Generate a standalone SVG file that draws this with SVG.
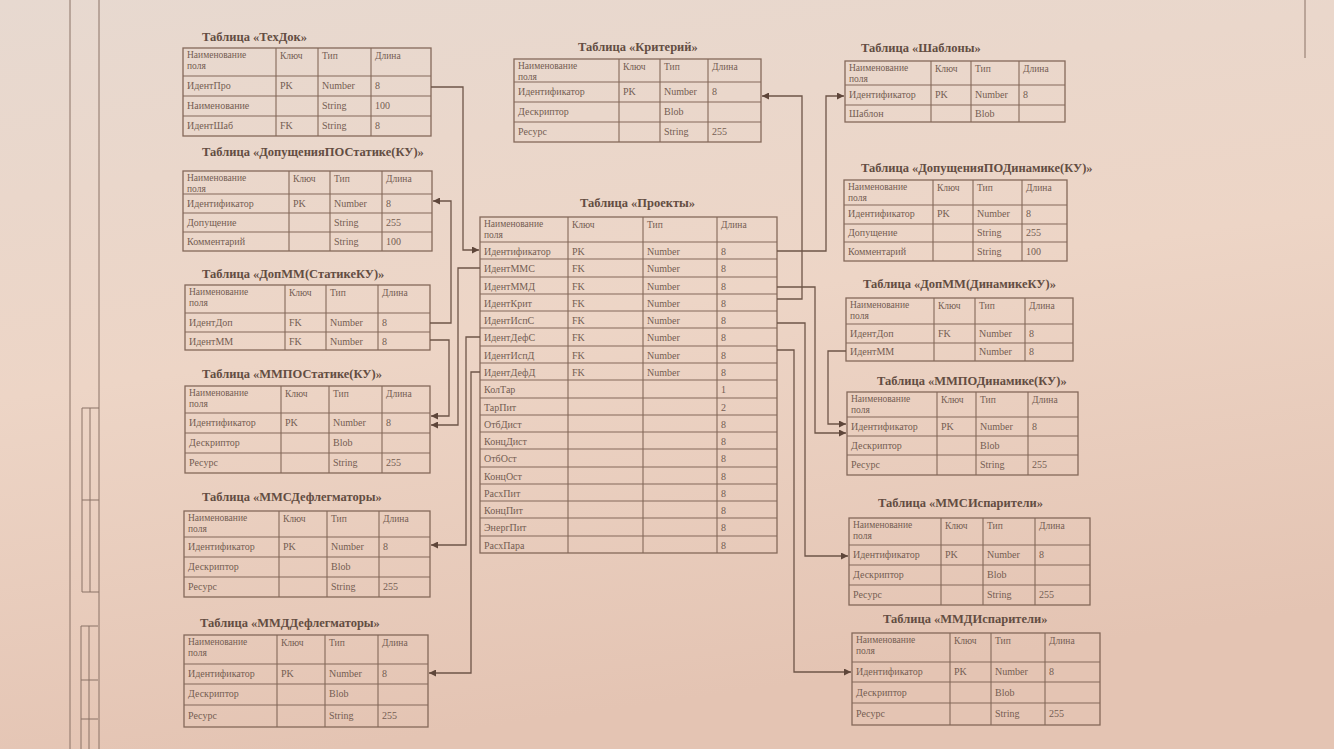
<svg xmlns="http://www.w3.org/2000/svg" width="1334" height="749" viewBox="0 0 1334 749">
<defs>
<linearGradient id="bg" x1="0" y1="0" x2="0.25" y2="1">
<stop offset="0" stop-color="#e7d9d0"/>
<stop offset="0.5" stop-color="#edd5c6"/>
<stop offset="1" stop-color="#e4c4b3"/>
</linearGradient>
<marker id="arr" viewBox="0 0 10 10" refX="10" refY="5" markerWidth="9" markerHeight="7" markerUnits="userSpaceOnUse" orient="auto">
<path d="M0 0L10 5L0 10z" fill="#5e463a"/>
</marker>
<style>
.box{fill:none;stroke:#84695a;stroke-width:1.3}
.grid{fill:none;stroke:#84695a;stroke-width:1.1}
.frame{fill:none;stroke:#8a7266;stroke-width:1}
.t{font-family:"Liberation Serif",serif;font-size:10px;fill:#745d52}
.h{font-family:"Liberation Serif",serif;font-size:9.5px;fill:#745d52}
.ttl{font-family:"Liberation Serif",serif;font-size:12.5px;font-weight:bold;fill:#634d42}
.conn{fill:none;stroke:#6e5548;stroke-width:1.3}
</style>
</defs>
<rect x="0" y="0" width="1334" height="749" fill="url(#bg)"/>

<g id="frame">
<path class="frame" d="M70 0V749M99 0V749M1305 0V58"/>
<path class="frame" d="M82 408H99M82 408V592H99M90 408V592M82 500H99"/>
<path class="frame" d="M81 626H98M81 626V749M89 626V749M81 680H98M81 719H98"/>
</g>

<g id="t-techdok">
<text class="ttl" x="202" y="41">Таблица «ТехДок»</text>
<rect class="box" x="183" y="48" width="248" height="88"/>
<path class="grid" d="M276 48V136M318 48V136M371 48V136M183 76H431M183 96H431M183 116H431"/>
<text class="h" x="187" y="58">Наименование</text><text class="h" x="187" y="69">поля</text>
<text class="h" x="280" y="59">Ключ</text><text class="h" x="322" y="59">Тип</text><text class="h" x="375" y="59">Длина</text>
<text class="t" x="187" y="89">ИдентПро</text><text class="t" x="280" y="89">PK</text><text class="t" x="322" y="89">Number</text><text class="t" x="375" y="89">8</text>
<text class="t" x="187" y="109">Наименование</text><text class="t" x="322" y="109">String</text><text class="t" x="375" y="109">100</text>
<text class="t" x="187" y="129">ИдентШаб</text><text class="t" x="280" y="129">FK</text><text class="t" x="322" y="129">String</text><text class="t" x="375" y="129">8</text>
</g>

<g id="t-dopst">
<text class="ttl" x="202" y="156">Таблица «ДопущенияПОСтатике(КУ)»</text>
<rect class="box" x="183" y="171" width="249" height="80"/>
<path class="grid" d="M289 171V251M330 171V251M382 171V251M183 194H432M183 213H432M183 232H432"/>
<text class="h" x="187" y="181">Наименование</text><text class="h" x="187" y="192">поля</text>
<text class="h" x="293" y="182">Ключ</text><text class="h" x="334" y="182">Тип</text><text class="h" x="386" y="182">Длина</text>
<text class="t" x="187" y="207">Идентификатор</text><text class="t" x="293" y="207">PK</text><text class="t" x="334" y="207">Number</text><text class="t" x="386" y="207">8</text>
<text class="t" x="187" y="226">Допущение</text><text class="t" x="334" y="226">String</text><text class="t" x="386" y="226">255</text>
<text class="t" x="187" y="245">Комментарий</text><text class="t" x="334" y="245">String</text><text class="t" x="386" y="245">100</text>
</g>

<g id="t-dopmmst">
<text class="ttl" x="202" y="278">Таблица «ДопММ(СтатикеКУ)»</text>
<rect class="box" x="185" y="285" width="245" height="65"/>
<path class="grid" d="M285 285V350M326 285V350M378 285V350M185 313H430M185 332H430"/>
<text class="h" x="189" y="295">Наименование</text><text class="h" x="189" y="306">поля</text>
<text class="h" x="289" y="296">Ключ</text><text class="h" x="330" y="296">Тип</text><text class="h" x="382" y="296">Длина</text>
<text class="t" x="189" y="326">ИдентДоп</text><text class="t" x="289" y="326">FK</text><text class="t" x="330" y="326">Number</text><text class="t" x="382" y="326">8</text>
<text class="t" x="189" y="345">ИдентММ</text><text class="t" x="289" y="345">FK</text><text class="t" x="330" y="345">Number</text><text class="t" x="382" y="345">8</text>
</g>

<g id="t-mmpost">
<text class="ttl" x="202" y="378">Таблица «ММПОСтатике(КУ)»</text>
<rect class="box" x="185" y="386" width="245" height="87"/>
<path class="grid" d="M281 386V473M329 386V473M382 386V473M185 413H430M185 433H430M185 453H430"/>
<text class="h" x="189" y="396">Наименование</text><text class="h" x="189" y="407">поля</text>
<text class="h" x="285" y="397">Ключ</text><text class="h" x="333" y="397">Тип</text><text class="h" x="386" y="397">Длина</text>
<text class="t" x="189" y="426">Идентификатор</text><text class="t" x="285" y="426">PK</text><text class="t" x="333" y="426">Number</text><text class="t" x="386" y="426">8</text>
<text class="t" x="189" y="446">Дескриптор</text><text class="t" x="333" y="446">Blob</text>
<text class="t" x="189" y="466">Ресурс</text><text class="t" x="333" y="466">String</text><text class="t" x="386" y="466">255</text>
</g>

<g id="t-mmsdef">
<text class="ttl" x="202" y="501">Таблица «ММСДефлегматоры»</text>
<rect class="box" x="184" y="511" width="246" height="86"/>
<path class="grid" d="M279 511V597M327 511V597M379 511V597M184 537H430M184 557H430M184 577H430"/>
<text class="h" x="188" y="521">Наименование</text><text class="h" x="188" y="532">поля</text>
<text class="h" x="283" y="522">Ключ</text><text class="h" x="331" y="522">Тип</text><text class="h" x="383" y="522">Длина</text>
<text class="t" x="188" y="550">Идентификатор</text><text class="t" x="283" y="550">PK</text><text class="t" x="331" y="550">Number</text><text class="t" x="383" y="550">8</text>
<text class="t" x="188" y="570">Дескриптор</text><text class="t" x="331" y="570">Blob</text>
<text class="t" x="188" y="590">Ресурс</text><text class="t" x="331" y="590">String</text><text class="t" x="383" y="590">255</text>
</g>

<g id="t-mmddef">
<text class="ttl" x="200" y="627">Таблица «ММДДефлегматоры»</text>
<rect class="box" x="184" y="635" width="244" height="92"/>
<path class="grid" d="M277 635V727M325 635V727M378 635V727M184 664H428M184 684H428M184 705H428"/>
<text class="h" x="188" y="645">Наименование</text><text class="h" x="188" y="656">поля</text>
<text class="h" x="281" y="646">Ключ</text><text class="h" x="329" y="646">Тип</text><text class="h" x="382" y="646">Длина</text>
<text class="t" x="188" y="677">Идентификатор</text><text class="t" x="281" y="677">PK</text><text class="t" x="329" y="677">Number</text><text class="t" x="382" y="677">8</text>
<text class="t" x="188" y="697">Дескриптор</text><text class="t" x="329" y="697">Blob</text>
<text class="t" x="188" y="719">Ресурс</text><text class="t" x="329" y="719">String</text><text class="t" x="382" y="719">255</text>
</g>

<g id="t-krit">
<text class="ttl" x="578" y="51">Таблица «Критерий»</text>
<rect class="box" x="514" y="59" width="247" height="83"/>
<path class="grid" d="M619 59V142M660 59V142M708 59V142M514 82H761M514 102H761M514 122H761"/>
<text class="h" x="518" y="69">Наименование</text><text class="h" x="518" y="80">поля</text>
<text class="h" x="623" y="70">Ключ</text><text class="h" x="664" y="70">Тип</text><text class="h" x="712" y="70">Длина</text>
<text class="t" x="518" y="95">Идентификатор</text><text class="t" x="623" y="95">PK</text><text class="t" x="664" y="95">Number</text><text class="t" x="712" y="95">8</text>
<text class="t" x="518" y="115">Дескриптор</text><text class="t" x="664" y="115">Blob</text>
<text class="t" x="518" y="135">Ресурс</text><text class="t" x="664" y="135">String</text><text class="t" x="712" y="135">255</text>
</g>

<g id="t-proekty">
<text class="ttl" x="580" y="207">Таблица «Проекты»</text>
<rect class="box" x="480" y="217" width="297" height="336"/>
<path class="grid" d="M568 217V553M643 217V553M717 217V553M480 242H777M480 259H777M480 277H777M480 294H777M480 311H777M480 328H777M480 346H777M480 363H777M480 380H777M480 398H777M480 415H777M480 432H777M480 449H777M480 467H777M480 484H777M480 501H777M480 518H777M480 536H777"/>
<text class="h" x="484" y="227">Наименование</text><text class="h" x="484" y="238">поля</text>
<text class="h" x="572" y="228">Ключ</text><text class="h" x="647" y="228">Тип</text><text class="h" x="721" y="228">Длина</text>
<text class="t" x="484" y="254.5">Идентификатор</text><text class="t" x="572" y="254.5">PK</text><text class="t" x="647" y="254.5">Number</text><text class="t" x="721" y="254.5">8</text>
<text class="t" x="484" y="271.5">ИдентММС</text><text class="t" x="572" y="271.5">FK</text><text class="t" x="647" y="271.5">Number</text><text class="t" x="721" y="271.5">8</text>
<text class="t" x="484" y="289.5">ИдентММД</text><text class="t" x="572" y="289.5">FK</text><text class="t" x="647" y="289.5">Number</text><text class="t" x="721" y="289.5">8</text>
<text class="t" x="484" y="306.5">ИдентКрит</text><text class="t" x="572" y="306.5">FK</text><text class="t" x="647" y="306.5">Number</text><text class="t" x="721" y="306.5">8</text>
<text class="t" x="484" y="323.5">ИдентИспС</text><text class="t" x="572" y="323.5">FK</text><text class="t" x="647" y="323.5">Number</text><text class="t" x="721" y="323.5">8</text>
<text class="t" x="484" y="340.5">ИдентДефС</text><text class="t" x="572" y="340.5">FK</text><text class="t" x="647" y="340.5">Number</text><text class="t" x="721" y="340.5">8</text>
<text class="t" x="484" y="358.5">ИдентИспД</text><text class="t" x="572" y="358.5">FK</text><text class="t" x="647" y="358.5">Number</text><text class="t" x="721" y="358.5">8</text>
<text class="t" x="484" y="375.5">ИдентДефД</text><text class="t" x="572" y="375.5">FK</text><text class="t" x="647" y="375.5">Number</text><text class="t" x="721" y="375.5">8</text>
<text class="t" x="484" y="392.5">КолТар</text><text class="t" x="721" y="392.5">1</text>
<text class="t" x="484" y="410.5">ТарПит</text><text class="t" x="721" y="410.5">2</text>
<text class="t" x="484" y="427.5">ОтбДист</text><text class="t" x="721" y="427.5">8</text>
<text class="t" x="484" y="444.5">КонцДист</text><text class="t" x="721" y="444.5">8</text>
<text class="t" x="484" y="461.5">ОтбОст</text><text class="t" x="721" y="461.5">8</text>
<text class="t" x="484" y="479.5">КонцОст</text><text class="t" x="721" y="479.5">8</text>
<text class="t" x="484" y="496.5">РасхПит</text><text class="t" x="721" y="496.5">8</text>
<text class="t" x="484" y="513.5">КонцПит</text><text class="t" x="721" y="513.5">8</text>
<text class="t" x="484" y="530.5">ЭнергПит</text><text class="t" x="721" y="530.5">8</text>
<text class="t" x="484" y="548.5">РасхПара</text><text class="t" x="721" y="548.5">8</text>
</g>

<g id="t-shablony">
<text class="ttl" x="861" y="52">Таблица «Шаблоны»</text>
<rect class="box" x="845" y="61" width="220" height="61"/>
<path class="grid" d="M931 61V122M971 61V122M1019 61V122M845 85H1065M845 105H1065"/>
<text class="h" x="849" y="71">Наименование</text><text class="h" x="849" y="82">поля</text>
<text class="h" x="935" y="72">Ключ</text><text class="h" x="975" y="72">Тип</text><text class="h" x="1023" y="72">Длина</text>
<text class="t" x="849" y="98">Идентификатор</text><text class="t" x="935" y="98">PK</text><text class="t" x="975" y="98">Number</text><text class="t" x="1023" y="98">8</text>
<text class="t" x="849" y="117">Шаблон</text><text class="t" x="975" y="117">Blob</text>
</g>

<g id="t-dopdin">
<text class="ttl" x="861" y="172">Таблица «ДопущенияПОДинамике(КУ)»</text>
<rect class="box" x="844" y="180" width="223" height="81"/>
<path class="grid" d="M933 180V261M973 180V261M1022 180V261M844 205H1067M844 224H1067M844 242H1067"/>
<text class="h" x="848" y="190">Наименование</text><text class="h" x="848" y="201">поля</text>
<text class="h" x="937" y="191">Ключ</text><text class="h" x="977" y="191">Тип</text><text class="h" x="1026" y="191">Длина</text>
<text class="t" x="848" y="217">Идентификатор</text><text class="t" x="937" y="217">PK</text><text class="t" x="977" y="217">Number</text><text class="t" x="1026" y="217">8</text>
<text class="t" x="848" y="236">Допущение</text><text class="t" x="977" y="236">String</text><text class="t" x="1026" y="236">255</text>
<text class="t" x="848" y="255">Комментарий</text><text class="t" x="977" y="255">String</text><text class="t" x="1026" y="255">100</text>
</g>

<g id="t-dopmmdin">
<text class="ttl" x="863" y="288">Таблица «ДопММ(ДинамикеКУ)»</text>
<rect class="box" x="846" y="298" width="227" height="63"/>
<path class="grid" d="M934 298V361M975 298V361M1025 298V361M846 324H1073M846 343H1073"/>
<text class="h" x="850" y="308">Наименование</text><text class="h" x="850" y="319">поля</text>
<text class="h" x="938" y="309">Ключ</text><text class="h" x="979" y="309">Тип</text><text class="h" x="1029" y="309">Длина</text>
<text class="t" x="850" y="337">ИдентДоп</text><text class="t" x="938" y="337">FK</text><text class="t" x="979" y="337">Number</text><text class="t" x="1029" y="337">8</text>
<text class="t" x="850" y="355">ИдентММ</text><text class="t" x="979" y="355">Number</text><text class="t" x="1029" y="355">8</text>
</g>

<g id="t-mmpodin">
<text class="ttl" x="877" y="385">Таблица «ММПОДинамике(КУ)»</text>
<rect class="box" x="847" y="392" width="231" height="83"/>
<path class="grid" d="M937 392V475M976 392V475M1028 392V475M847 417H1078M847 436H1078M847 455H1078"/>
<text class="h" x="851" y="402">Наименование</text><text class="h" x="851" y="413">поля</text>
<text class="h" x="941" y="403">Ключ</text><text class="h" x="980" y="403">Тип</text><text class="h" x="1032" y="403">Длина</text>
<text class="t" x="851" y="430">Идентификатор</text><text class="t" x="941" y="430">PK</text><text class="t" x="980" y="430">Number</text><text class="t" x="1032" y="430">8</text>
<text class="t" x="851" y="449">Дескриптор</text><text class="t" x="980" y="449">Blob</text>
<text class="t" x="851" y="468">Ресурс</text><text class="t" x="980" y="468">String</text><text class="t" x="1032" y="468">255</text>
</g>

<g id="t-mmsisp">
<text class="ttl" x="878" y="507">Таблица «ММСИспарители»</text>
<rect class="box" x="849" y="518" width="241" height="87"/>
<path class="grid" d="M941 518V605M983 518V605M1035 518V605M849 545H1090M849 565H1090M849 585H1090"/>
<text class="h" x="853" y="528">Наименование</text><text class="h" x="853" y="539">поля</text>
<text class="h" x="945" y="529">Ключ</text><text class="h" x="987" y="529">Тип</text><text class="h" x="1039" y="529">Длина</text>
<text class="t" x="853" y="558">Идентификатор</text><text class="t" x="945" y="558">PK</text><text class="t" x="987" y="558">Number</text><text class="t" x="1039" y="558">8</text>
<text class="t" x="853" y="578">Дескриптор</text><text class="t" x="987" y="578">Blob</text>
<text class="t" x="853" y="598">Ресурс</text><text class="t" x="987" y="598">String</text><text class="t" x="1039" y="598">255</text>
</g>

<g id="t-mmdisp">
<text class="ttl" x="883" y="623">Таблица «ММДИспарители»</text>
<rect class="box" x="852" y="633" width="248" height="92"/>
<path class="grid" d="M950 633V725M991 633V725M1045 633V725M852 662H1100M852 682H1100M852 703H1100"/>
<text class="h" x="856" y="643">Наименование</text><text class="h" x="856" y="654">поля</text>
<text class="h" x="954" y="644">Ключ</text><text class="h" x="995" y="644">Тип</text><text class="h" x="1049" y="644">Длина</text>
<text class="t" x="856" y="675">Идентификатор</text><text class="t" x="954" y="675">PK</text><text class="t" x="995" y="675">Number</text><text class="t" x="1049" y="675">8</text>
<text class="t" x="856" y="696">Дескриптор</text><text class="t" x="995" y="696">Blob</text>
<text class="t" x="856" y="717">Ресурс</text><text class="t" x="995" y="717">String</text><text class="t" x="1049" y="717">255</text>
</g>

<g id="connectors">
<polyline class="conn" marker-end="url(#arr)" points="431,87 463,87 463,250 479,250"/>
<polyline class="conn" marker-end="url(#arr)" points="430,323 451,323 451,201 433,201"/>
<polyline class="conn" marker-end="url(#arr)" points="430,340 449,340 449,416 431,416"/>
<polyline class="conn" marker-end="url(#arr)" points="480,268 458,268 458,425 431,425"/>
<polyline class="conn" marker-end="url(#arr)" points="480,337 466,337 466,545 431,545"/>
<polyline class="conn" marker-end="url(#arr)" points="480,372 471,372 471,673 429,673"/>
<polyline class="conn" marker-end="url(#arr)" points="777,251 826,251 826,96 844,96"/>
<polyline class="conn" marker-end="url(#arr)" points="777,299 802,299 802,96 762,96"/>
<polyline class="conn" marker-end="url(#arr)" points="777,287 815,287 815,433 846,433"/>
<polyline class="conn" marker-end="url(#arr)" points="846,351 828,351 828,424 846,424"/>
<polyline class="conn" marker-end="url(#arr)" points="777,323 805,323 805,556 848,556"/>
<polyline class="conn" marker-end="url(#arr)" points="777,350 794,350 794,672 851,672"/>
</g>
</svg>
